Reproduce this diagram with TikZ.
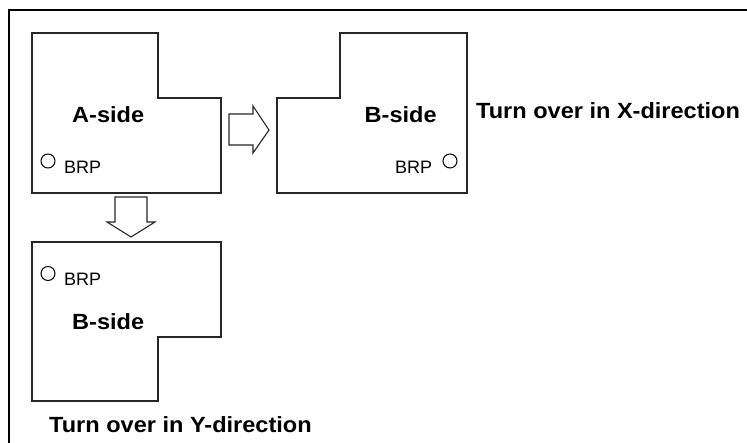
\documentclass[tikz,border=0pt]{standalone}
\usepackage{fontspec}
\setmainfont{Liberation Sans}
\newfontfamily\lblfont[FakeStretch=1.07]{Liberation Sans}
\begin{document}
\begin{tikzpicture}[x=1pt,y=-1pt,
  outline/.style={draw=black!85,line width=1.1pt,line join=miter},
  blockarrow/.style={draw=black!85,fill=white,line width=1.1pt,line join=miter},
  sidelabel/.style={inner sep=0pt,anchor=base west,font=\lblfont\bfseries\fontsize{22}{26}\selectfont},
  titlelabel/.style={inner sep=0pt,anchor=base west,font=\lblfont\bfseries\fontsize{22}{26}\selectfont},
  brplabel/.style={inner sep=0pt,anchor=base west,font=\fontsize{18}{21}\selectfont},
  refmark/.style={draw=black,line width=1pt}]
\useasboundingbox (0,0) rectangle (747,442);
\fill[white] (0,0) rectangle (747,442);

% outer frame (continues past the right and bottom edges)
\draw[line width=2.2pt,line cap=rect] (747,10) -- (9,10) -- (9,442);

% A-side plate
\draw[outline] (32,33) -- (158,33) -- (158,98) -- (221,98) -- (221,193) -- (32,193) -- cycle;
\node[sidelabel] (aside) at (72,122) {A-side};
\draw[refmark] (48,161) circle (7);
\node[brplabel] (brpa) at (64,173) {BRP};

% plate turned over in X-direction
\draw[outline] (277,98) -- (340,98) -- (340,33) -- (467,33) -- (467,193) -- (277,193) -- cycle;
\node[sidelabel] (bsidex) at (364.5,122) {B-side};
\draw[refmark] (450,161) circle (7);
\node[brplabel] (brpx) at (395,173) {BRP};
\node[titlelabel] (turnx) at (476,118) {Turn over in X-direction};

% plate turned over in Y-direction
\draw[outline] (32,242) -- (221,242) -- (221,337) -- (158,337) -- (158,401) -- (32,401) -- cycle;
\node[sidelabel] (bsidey) at (72,329) {B-side};
\draw[refmark] (48,273.5) circle (7);
\node[brplabel] (brpy) at (64,285) {BRP};
\node[titlelabel] (turny) at (49,432) {Turn over in Y-direction};

% block arrows
\draw[blockarrow] (229,114) -- (253,114) -- (253,106) -- (269,130) -- (253,153) -- (253,145) -- (229,145) -- cycle;
\draw[blockarrow] (115,197) -- (147,197) -- (147,222) -- (155,222) -- (131,237) -- (107,222) -- (115,222) -- cycle;
\end{tikzpicture}
\end{document}
